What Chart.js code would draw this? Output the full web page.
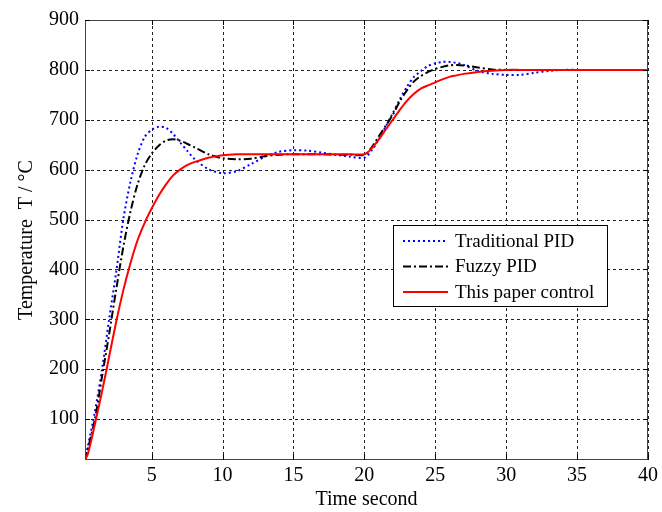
<!DOCTYPE html>
<html>
<head>
<meta charset="utf-8">
<script src="https://cdn.jsdelivr.net/npm/chart.js@4"></script>
<style>
  html, body { margin: 0; padding: 0; background: #fff; }
  #wrap { width: 662px; height: 512px; }
</style>
</head>
<body>
<div id="wrap"><canvas id="c" width="662" height="512"></canvas></div>
<script>
// ---- data ----
const time = [0.3, 0.5, 1, 1.5, 2, 2.5, 3, 3.5, 4, 4.5, 5, 5.5, 6, 6.5, 7, 7.5, 8, 9, 10, 11, 12, 13, 14, 15, 16, 17, 18, 19, 20,
  20.5, 21, 21.5, 22, 22.5, 23, 23.5, 24, 24.5, 25, 25.5, 26, 26.5, 27, 28, 29, 30, 31, 32, 33, 34, 35, 36, 38, 40];

const traditionalPID = [18, 45, 115, 200, 300, 395, 500, 575, 630, 665, 680, 686, 684, 672, 655, 638, 622, 601, 593, 597, 611, 626, 636, 639, 638, 634, 630, 626, 624,
  638, 660, 686, 713, 741, 766, 786, 798, 808, 813, 816, 816, 814, 810, 798, 792, 790, 790, 794, 798, 800, 800, 800, 800, 800];

const fuzzyPID = [18, 40, 100, 185, 270, 360, 445, 515, 570, 608, 632, 648, 658, 661, 658, 652, 645, 631, 623, 621, 622, 627, 630, 631, 631, 631, 630, 630, 630,
  644, 666, 688, 710, 737, 759, 777, 788, 796, 802, 806, 809, 810, 809, 805, 801, 800, 800, 800, 800, 800, 800, 800, 800, 800];

const thisPaper = [18, 30, 90, 155, 225, 295, 358, 412, 458, 493, 522, 548, 570, 588, 600, 609, 615, 624, 629, 631, 631, 631, 631, 631, 631, 631, 631, 631, 631,
  642, 660, 680, 700, 720, 738, 752, 763, 769, 775, 781, 786, 789, 792, 796, 798.5, 800, 800, 800, 800, 800, 800, 800, 800, 800];

const xTicks = [5, 10, 15, 20, 25, 30, 35, 40];
const yTicks = [100, 200, 300, 400, 500, 600, 700, 800, 900];
const seriesNames = ['Traditional PID', 'Fuzzy PID', 'This paper control'];

const FONT = '"Liberation Serif", "Times New Roman", serif';

function pts(ys) { return time.map((t, i) => ({ x: t, y: ys[i] })); }

const styles = [
  { color: '#0000ff', dash: [2, 3], width: 2 },
  { color: '#000000', dash: [8, 3, 2, 3], width: 2 },
  { color: '#ff0000', dash: [], width: 2 }
];

const dashedGrid = {
  id: 'dashedGrid',
  beforeDatasetsDraw(chart) {
    const { ctx, chartArea: a, scales } = chart;
    ctx.save();
    ctx.strokeStyle = '#222';
    ctx.lineWidth = 1;
    ctx.setLineDash([3, 3]);
    xTicks.forEach(v => {
      const x = Math.round(scales.x.getPixelForValue(v)) + 0.5;
      ctx.beginPath(); ctx.moveTo(x, a.top); ctx.lineTo(x, a.bottom); ctx.stroke();
    });
    yTicks.forEach(v => {
      const y = Math.round(scales.y.getPixelForValue(v)) + 0.5;
      ctx.beginPath(); ctx.moveTo(a.left, y); ctx.lineTo(a.right, y); ctx.stroke();
    });
    ctx.restore();
  }
};

const frame = {
  id: 'frame',
  afterDatasetsDraw(chart) {
    const { ctx, chartArea: a, scales } = chart;
    ctx.save();
    // axis box
    ctx.strokeStyle = '#444';
    ctx.lineWidth = 1;
    ctx.setLineDash([]);
    ctx.strokeRect(a.left + 0.5, a.top + 0.5, a.right - a.left - 1, a.bottom - a.top - 1);
    // inward tick marks
    ctx.strokeStyle = '#000';
    xTicks.forEach(v => {
      const x = Math.round(scales.x.getPixelForValue(v)) + 0.5;
      ctx.beginPath(); ctx.moveTo(x, a.bottom); ctx.lineTo(x, a.bottom - 5);
      ctx.moveTo(x, a.top); ctx.lineTo(x, a.top + 5); ctx.stroke();
    });
    yTicks.forEach(v => {
      const y = Math.round(scales.y.getPixelForValue(v)) + 0.5;
      ctx.beginPath(); ctx.moveTo(a.left, y); ctx.lineTo(a.left + 5, y);
      ctx.moveTo(a.right, y); ctx.lineTo(a.right - 5, y); ctx.stroke();
    });
    // legend box
    const lx = a.left + 308, ly = a.top + 205, lw = 214, lh = 81;
    ctx.fillStyle = '#fff';
    ctx.fillRect(lx, ly, lw, lh);
    ctx.strokeStyle = '#000';
    ctx.lineWidth = 1;
    ctx.strokeRect(lx + 0.5, ly + 0.5, lw, lh);
    ctx.font = '19px ' + FONT;
    ctx.textBaseline = 'middle';
    seriesNames.forEach((name, i) => {
      const cy = ly + 16 + i * 25.5;
      const s = styles[i];
      ctx.strokeStyle = s.color;
      ctx.lineWidth = s.width;
      ctx.setLineDash(s.dash);
      ctx.beginPath(); ctx.moveTo(lx + 10, cy); ctx.lineTo(lx + 55, cy); ctx.stroke();
      ctx.setLineDash([]);
      ctx.fillStyle = '#000';
      ctx.fillText(name, lx + 62, cy + 1);
    });
    ctx.restore();
  }
};

new Chart(document.getElementById('c'), {
  type: 'scatter',
  data: {
    datasets: [traditionalPID, fuzzyPID, thisPaper].map((d, i) => ({
      label: seriesNames[i],
      data: pts(d),
      showLine: true,
      borderColor: styles[i].color,
      borderWidth: styles[i].width,
      borderDash: styles[i].dash,
      pointRadius: 0,
      tension: 0.3,
      fill: false,
      order: 2 - i
    }))
  },
  options: {
    responsive: false,
    animation: false,
    layout: { padding: { top: 20, right: 11, left: 0, bottom: 0 } },
    plugins: { legend: { display: false }, tooltip: { enabled: false } },
    scales: {
      x: {
        type: 'linear', min: 0.3, max: 40,
        afterBuildTicks(s) { s.ticks = xTicks.map(v => ({ value: v })); },
        afterFit(s) { s.height = 52; },
        grid: { display: false, drawTicks: false, tickLength: 0 },
        border: { display: false },
        ticks: { color: '#000', font: { family: FONT, size: 20 }, padding: 4, maxRotation: 0 },
        title: { display: true, text: 'Time second', color: '#000', font: { family: FONT, size: 20 }, padding: { top: 0, bottom: 0 } }
      },
      y: {
        type: 'linear', min: 18, max: 900,
        afterBuildTicks(s) { s.ticks = yTicks.map(v => ({ value: v })); },
        afterFit(s) { s.width = 85; },
        grid: { display: false, drawTicks: false, tickLength: 0 },
        border: { display: false },
        ticks: { color: '#000', font: { family: FONT, size: 20 }, padding: 6 },
        title: { display: true, text: 'Temperature  T / °C', color: '#000', font: { family: FONT, size: 20 }, padding: { top: 15, bottom: 0 } }
      }
    }
  },
  plugins: [dashedGrid, frame]
});
</script>
</body>
</html>
